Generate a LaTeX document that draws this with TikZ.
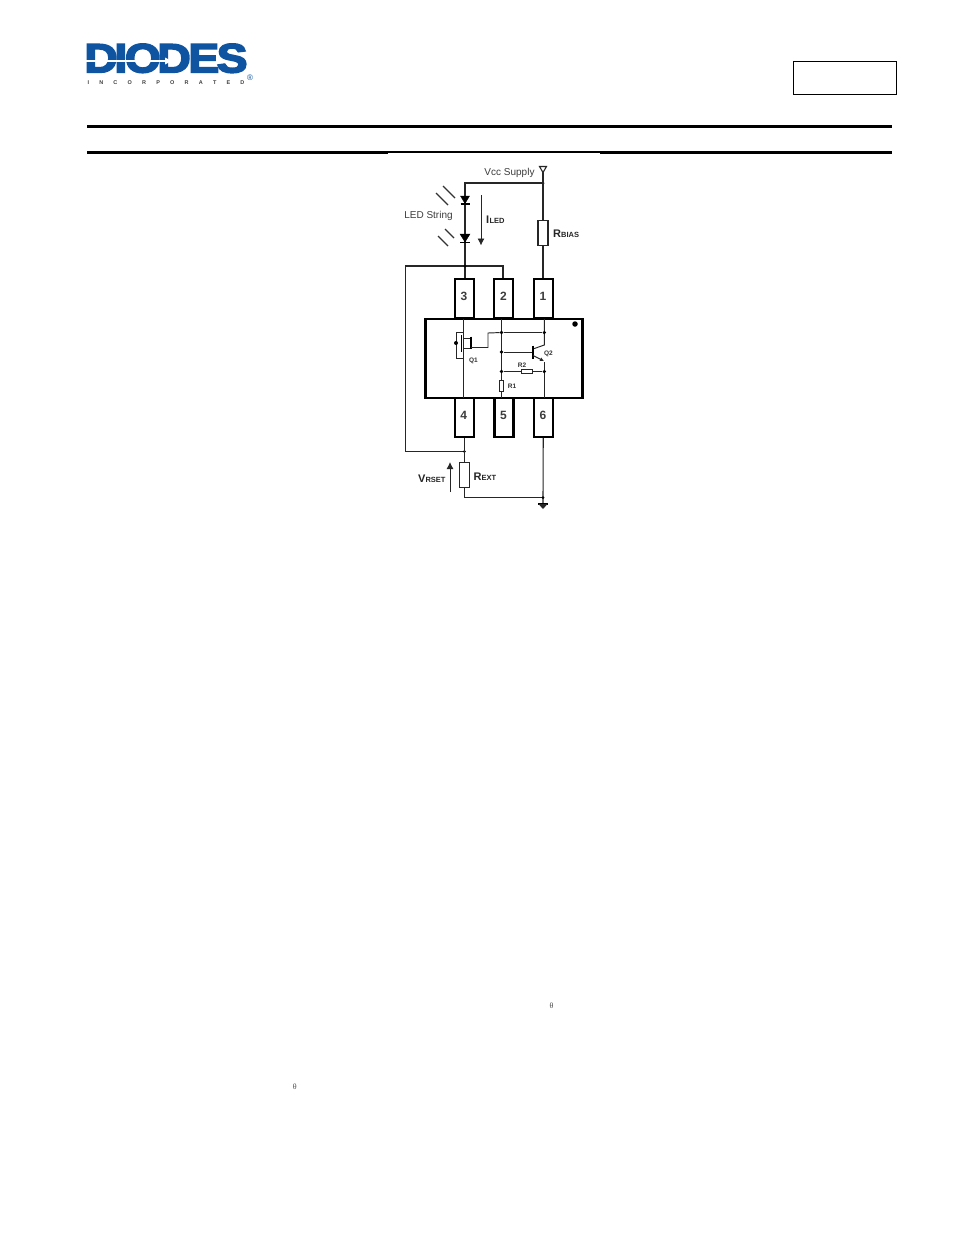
\documentclass[tikz,border=0pt]{standalone}
\usepackage{fontspec}
\setmainfont{Liberation Sans}
\newfontfamily\logofont[BoldFeatures={FakeBold=4}]{Liberation Sans}
\newfontfamily\thetafont{Liberation Serif}
\usetikzlibrary{arrows.meta,calc}
\definecolor{logoblue}{RGB}{14,84,160}
\definecolor{soft}{RGB}{60,60,60}
\tikzset{
 wire/.style={line width=1.1pt,draw=black!85},
 inner/.style={line width=0.95pt,draw=black!85},
 pinbox/.style={draw=black,line width=2.1pt,fill=white,minimum width=19pt,minimum height=39pt,inner sep=0pt},
 pinnum/.style={inner sep=0pt,font=\fontsize{12}{12}\selectfont\bfseries,text=soft},
 res/.style={draw=black!85,line width=1.1pt,fill=white,minimum width=10pt,minimum height=25pt,inner sep=0pt},
 smallres/.style={draw=black!85,line width=0.9pt,fill=white,inner sep=0pt},
 dotj/.style={circle,fill=black,inner sep=0pt,minimum size=3.6pt},
 lbl/.style={inner sep=0pt,text=soft,font=\fontsize{10}{10}\selectfont},
 blbl/.style={inner sep=0pt,text=black!85,font=\fontsize{11}{11}\selectfont\bfseries},
 tiny/.style={inner sep=0pt,text=black!80,font=\fontsize{6.5}{6.5}\selectfont\bfseries},
 led/.style={fill=black,draw=black},
 ray/.style={line width=1.1pt,draw=black!80},
 rulel/.style={line width=3pt,draw=black},
 flow/.style={line width=0.9pt,draw=black!85,-{Latex[length=7pt,width=7pt]}},
}
\newcommand{\sub}[1]{{\fontsize{7.5}{7.5}\selectfont #1}}
\begin{document}
\begin{tikzpicture}[x=1pt,y=-1pt]
\useasboundingbox[fill=white] (0,0) rectangle (954,1235);
% logo
\node[inner sep=0pt,anchor=center,text=logoblue] (logo) at (166,58.3) {\resizebox{163pt}{28.5pt}{\logofont\bfseries D\kern-0.07em I\kern-0.05em O\kern-0.07em D\kern-0.05em E\kern-0.05em S}};
\node[inner sep=0pt,text=black!75,font=\fontsize{5.5}{5.5}\selectfont\bfseries] (inc) at (166,83) {I\hspace{10.2pt}N\hspace{10.2pt}C\hspace{10.2pt}O\hspace{10.2pt}R\hspace{10.2pt}P\hspace{10.2pt}O\hspace{10.2pt}R\hspace{10.2pt}A\hspace{10.2pt}T\hspace{10.2pt}E\hspace{10.2pt}D};
\node[inner sep=0pt,text=logoblue,font=\fontsize{8}{8}\selectfont] (reg) at (250,77.5) {®};
\coordinate (sl) at (84,61);
\coordinate (sr) at (166,61);
\draw[white,line width=1.1pt] (sl) -- (sr);
\fill[white] (165,57.5) -- (171.5,61) -- (165,64.5) -- cycle;
% header box and rules
\node[draw=black,line width=0.9pt,minimum width=103pt,minimum height=33.5pt,inner sep=0pt] (partbox) at (844.5,77.8) {};
\coordinate (r1l) at (87,126); \coordinate (r1r) at (892,126);
\draw[rulel] (r1l) -- (r1r);
\coordinate (r2l) at (87,152.5); \coordinate (r2a) at (388,152.5);
\coordinate (r2b) at (600,152.5); \coordinate (r2r) at (892,152.5);
\draw[rulel] (r2l) -- (r2a) (r2b) -- (r2r);
\draw[line width=1.6pt] ($(r2a)+(0,-0.8)$) -- ($(r2b)+(0,-0.8)$);
% package
\node[draw=black,line width=2.1pt,minimum width=157pt,minimum height=79pt,inner sep=0pt] (pkg) at (504,358.5) {};
\node[circle,fill=black,inner sep=0pt,minimum size=5.5pt] (pkgdot) at (575,324) {};
% coordinates
\coordinate (vcc) at (543,172);
\coordinate (jv) at (543,183);
\coordinate (tl) at (465,183);
\node[dotj,minimum size=3pt] (jvd) at (jv) {};
\coordinate (j3) at (465,266);
\coordinate (ll) at (405.5,266);
\coordinate (lb) at (405.5,451.5);
\coordinate (j4) at (464.3,451.5);
\coordinate (g) at (543,497.5);
\coordinate (gl) at (464.3,497.5);
\coordinate (gb) at (543,504);
% wires behind
\draw[wire] (vcc) -- (jv) -- (tl) -- (465,279);
\node[res] (rbias) at (543,233) {};
\draw[wire] (jv) -- (rbias) ;
\draw[wire] (rbias) -- (543,280);
\draw[wire] (lb) -- (ll) -- (j3) -- (503,266) -- (503,279);
\draw[wire] (lb) -- (j4);
\node[dotj,minimum size=3pt] (j3d) at (j3) {};
\node[dotj,minimum size=3pt] (j4d) at (j4) {};
% pins
\node[pinbox] (p3) at (464.3,298.5) {};
\node[pinbox] (p2) at (503.5,298.5) {};
\node[pinbox] (p1) at (543.3,298.5) {};
\node[pinbox] (p4) at (464.3,417.5) {};
\node[pinbox] (p5) at (504,417.5) {};
\node[pinbox] (p6) at (543.3,417.5) {};
\node[pinnum] (n3) at (464,296.5) {3};
\node[pinnum] (n2) at (503.5,296.5) {2};
\node[pinnum] (n1) at (543,296.5) {1};
\node[pinnum] (n4) at (463.7,415) {4};
\node[pinnum] (n5) at (503.5,415) {5};
\node[pinnum] (n6) at (543,415) {6};
% antenna
\draw[wire,fill=white] (539.5,166.5) -- (546.5,166.5) -- (543,172.5) -- cycle;
\node[lbl,anchor=center] (vcclbl) at (509.5,172.5) {Vcc Supply};
% LEDs
\draw[led] (460.5,196) -- (469.5,196) -- (465,203.5) -- cycle;
\draw[line width=1.1pt] (460.5,204) -- (469.5,204);
\draw[led] (460,234) -- (470,234) -- (465,242) -- cycle;
\draw[line width=1.1pt] (460,242.5) -- (470,242.5);
\draw[ray] (443,186) -- (455,198);
\draw[ray] (436,193) -- (448,205);
\draw[ray] (445,229) -- (454,238);
\draw[ray] (438,236) -- (448,246);
\node[lbl] (ledlbl) at (428.5,215.5) {LED String};
% ILED
\coordinate (ia) at (481,195); \coordinate (ib) at (481,245.5);
\draw[flow] (ia) -- (ib);
\node[blbl,anchor=west] (ilbl) at (486,220) {I\kern0.3pt\sub{LED}};
\node[blbl,anchor=west] (rblbl) at (553,234) {R\sub{BIAS}};
% Internal wiring
\coordinate (a1) at (463.3,319); \coordinate (a2) at (463.3,398);
\draw[inner] (a1) -- (a2);
\coordinate (b1) at (501.5,319); \coordinate (b2) at (501.5,398);
\draw[inner] (b1) -- (b2);
\draw[inner] (544.3,319) -- (544.3,345) -- (533,349);
\draw[inner] (544.3,362) -- (544.3,398);
\node[dotj] (jb1) at (501.5,332.5) {};
\node[dotj] (jb2) at (501.5,352) {};
\node[dotj] (jb3) at (501.5,371.5) {};
\node[dotj] (jc1) at (544.3,332.5) {};
\node[dotj] (jc2) at (544.3,371.5) {};
\draw[inner] (jb1) -- (jc1);
\draw[inner] (jb3) -- (jc2);
\draw[inner] (jb2) -- (533,352);
\draw[line width=1.5pt] (533,345.5) -- (533,359);
\draw[inner,-{Latex[length=4pt,width=4pt]}] (533,355.5) -- (544,361);
% Q1
\draw[inner] (463.3,332) -- (456,332) -- (456,358) -- (463.3,358);
\node[dotj,minimum size=4pt] (qd) at (456,343) {};
\draw[inner] (463.3,338) -- (471,338);
\draw[inner] (463.3,348) -- (471,348);
\draw[line width=1.4pt] (461.5,335) -- (461.5,352);
\draw[line width=1.3pt] (471,336.5) -- (471,349);
\draw[inner] (471,347.5) -- (488,347.5) -- (488,333) -- (jb1);
\node[smallres,minimum width=11pt,minimum height=4pt] (r2) at (526.5,371.5) {};
\node[smallres,minimum width=4pt,minimum height=10.5pt] (r1) at (501.5,386) {};
\node[tiny] (q1l) at (473.5,360.5) {Q1};
\node[tiny] (q2l) at (548.5,353.5) {Q2};
\node[tiny] (r2l) at (522,365) {R2};
\node[tiny] (r1l) at (512,386) {R1};
% bottom
\node[res] (rext) at (464.3,475) {};
\draw[wire] (p4) -- (rext);
\draw[wire] (rext) -- (gl) -- (g);
\draw[wire] (p6) -- (gb);
\node[dotj,minimum size=3pt] (gd) at (g) {};
\draw[line width=1.1pt] (538,504) -- (548,504);
\fill[black!85] (538.5,504) -- (547.5,504) -- (543,509) -- cycle;
\coordinate (va) at (450,492); \coordinate (vb) at (450,462);
\draw[flow] (va) -- (vb);
\node[blbl,anchor=west] (vl) at (418,479) {V\sub{RSET}};
\node[blbl,anchor=west] (rl) at (473.5,476.5) {R\sub{EXT}};
% thetas
\node[inner sep=0pt,text=black!70,font=\thetafont\fontsize{8}{8}\selectfont] (t1) at (551.5,1005.5) {θ};
\node[inner sep=0pt,text=black!70,font=\thetafont\fontsize{8}{8}\selectfont] (t2) at (294.8,1086.5) {θ};
\end{tikzpicture}
\end{document}
